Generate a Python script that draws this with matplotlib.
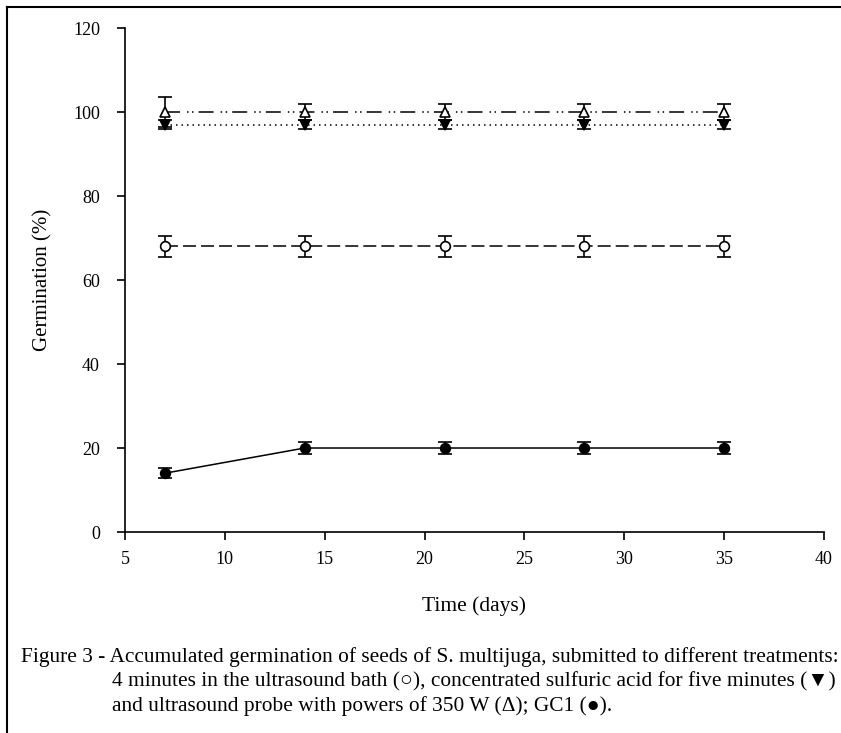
import matplotlib.pyplot as plt
from matplotlib.lines import Line2D

plt.rcParams['font.family'] = ['Liberation Serif', 'DejaVu Serif']

days = [7, 14, 21, 28, 35]

probe = [100, 100, 100, 100, 100]
probe_err = [3.5, 2, 2, 2, 2]

acid = [97, 97, 97, 97, 97]
acid_err = [1, 1, 1, 1, 1]

bath = [68, 68, 68, 68, 68]
bath_err = [2.5, 2.5, 2.5, 2.5, 2.5]

gc1 = [14, 20, 20, 20, 20]
gc1_err = [1.2, 1.5, 1.5, 1.5, 1.5]

x_ticks = [5, 10, 15, 20, 25, 30, 35, 40]
y_ticks = [0, 20, 40, 60, 80, 100, 120]

fig = plt.figure(figsize=(8.41, 7.33), dpi=100)
ax = fig.add_axes([0.1486, 0.2742, 0.8312, 0.6876])

common = dict(color='black', ecolor='black', elinewidth=1.2, capsize=5,
              capthick=1.2, markersize=7, markeredgewidth=1.2, lw=1.1)

ax.errorbar(days, probe, yerr=probe_err, fmt='^', mfc='white',
            linestyle=(0, (9.8, 4.6, 1, 2.3, 1, 3.3)), **common)
ax.errorbar(days, acid, yerr=acid_err, fmt='v', mfc='black',
            linestyle=(0, (1, 2.6)), **common)
ax.errorbar(days, bath, yerr=bath_err, fmt='o', mfc='white',
            linestyle=(0, (8.5, 3.3)), **common)
ax.errorbar(days, gc1, yerr=gc1_err, fmt='o', mfc='black',
            linestyle='-', **common)

ax.set_xlim(5, 40)
ax.set_ylim(0, 120)
ax.set_xticks(x_ticks)
ax.set_yticks(y_ticks)
ax.spines['top'].set_visible(False)
ax.spines['right'].set_visible(False)
ax.spines['left'].set_linewidth(1.2)
ax.spines['bottom'].set_linewidth(1.2)
ax.tick_params(direction='out', length=6, width=1.2, labelsize=13, pad=8)
ax.tick_params(axis='y', pad=12)

ax.set_xlabel('Time (days)', fontsize=15.5, labelpad=20)
ax.set_ylabel('Germination (%)', fontsize=15, labelpad=15)

# outer frame (top and left edges)
fig.add_artist(Line2D([7/841, 1], [1-7/733, 1-7/733], color='black', lw=1.5,
                      transform=fig.transFigure))
fig.add_artist(Line2D([7/841, 7/841], [0, 1-7/733], color='black', lw=1.5,
                      transform=fig.transFigure))

cap_size = 15.4
fig.text(21/841, 1-657/733,
         'Figure 3 - Accumulated germination of seeds of S. multijuga, submitted to different treatments:',
         fontsize=cap_size, va='center', ha='left')
fig.text(112/841, 1-682/733,
         '4 minutes in the ultrasound bath (\u25cb), concentrated sulfuric acid for five minutes (\u25bc)',
         fontsize=cap_size, va='center', ha='left')
fig.text(112/841, 1-706/733,
         'and ultrasound probe with powers of 350 W (\u0394); GC1 (\u25cf).',
         fontsize=cap_size, va='center', ha='left')

fig.savefig('out.png', dpi=100)
